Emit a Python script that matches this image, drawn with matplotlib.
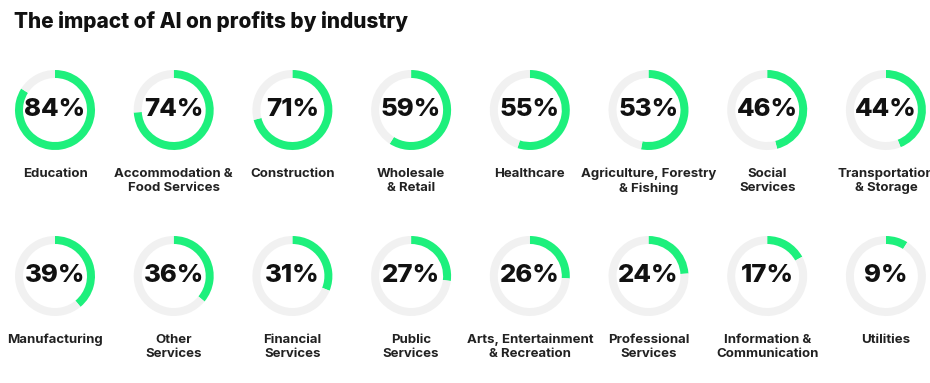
import matplotlib
matplotlib.use("Agg")
import matplotlib.pyplot as plt

plt.rcParams['font.family'] = ['Inter', 'DejaVu Sans']

industries = ["Education", "Accommodation &\nFood Services", "Construction", "Wholesale\n& Retail",
              "Healthcare", "Agriculture, Forestry\n& Fishing", "Social\nServices", "Transportation\n& Storage",
              "Manufacturing", "Other\nServices", "Financial\nServices", "Public\nServices",
              "Arts, Entertainment\n& Recreation", "Professional\nServices", "Information &\nCommunication",
              "Utilities"]
impact = [84, 74, 71, 59, 55, 53, 46, 44, 39, 36, 31, 27, 26, 24, 17, 9]  # %

green = '#1df07c'
grey = '#f1f1f1'

W, H = 930, 383
fig = plt.figure(figsize=(W / 100, H / 100), dpi=100)
ax = fig.add_axes([0, 0, 1, 1])

radius = 40
ring = 8
for i, (name, val) in enumerate(zip(industries, impact)):
    row, col = divmod(i, 8)
    cx = 55 + 118.7 * col
    cy = H - (110 + 166 * row)
    ax.pie([val, 100 - val], colors=[green, grey], startangle=90, counterclock=False,
           radius=radius, center=(cx, cy), wedgeprops=dict(width=ring, linewidth=0))
    ax.text(cx, cy, f"{val}%", ha='center', va='center', fontsize=18.5, fontweight='heavy',
            color='#111111')
    ax.text(cx, cy - 58, name, ha='center', va='top', fontsize=9.5, fontweight='bold',
            color='#222222', linespacing=1.2)

ax.set_xlim(0, W)
ax.set_ylim(0, H)
ax.set_aspect('equal')
ax.axis('off')

fig.text(14 / W, 1 - 22 / H, "The impact of AI on profits by industry", ha='left', va='center',
         fontsize=15, fontweight='heavy', color='#111111')

fig.savefig('out.png', dpi=100, facecolor='white')
